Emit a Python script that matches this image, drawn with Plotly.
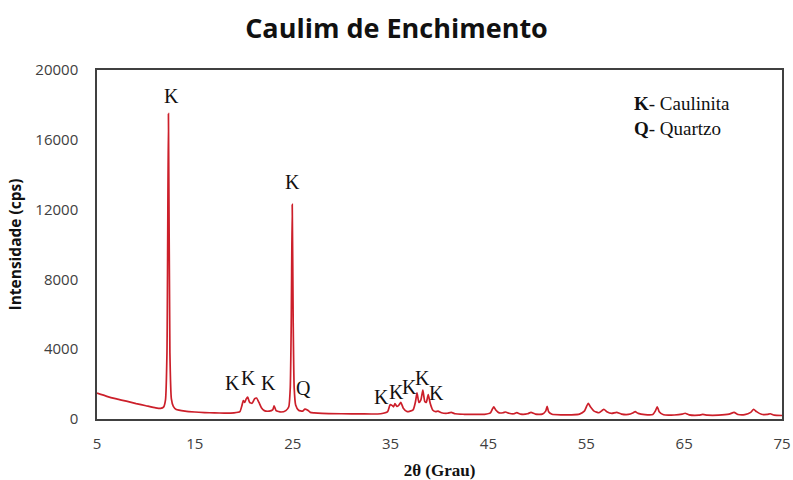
import plotly.graph_objects as go

# Diffractogram of the filler kaolin: 2-theta (degrees) and intensity (cps)
two_theta = [
    5.0, 6.0, 7.0, 8.0, 9.0, 10.0, 11.0, 11.5, 11.8, 12.0, 12.15, 12.3, 12.45, 12.6,
    12.8, 13.1, 14.0, 15.0, 16.0, 17.0, 18.0, 19.0, 19.6, 19.8, 19.95, 20.1, 20.25,
    20.4, 20.6, 20.85, 21.1, 21.3, 21.55, 21.8, 22.1, 22.6, 22.95, 23.1, 23.3, 23.8,
    24.3, 24.6, 24.75, 24.85, 24.95, 25.05, 25.15, 25.3, 25.6, 26.0, 26.25, 26.5,
    26.8, 27.2, 28.0, 30.0, 32.0, 34.0, 34.7, 34.95, 35.15, 35.3, 35.45, 35.65,
    35.85, 36.05, 36.3, 36.7, 37.3, 37.55, 37.7, 37.9, 38.1, 38.3, 38.5, 38.65,
    38.85, 39.05, 39.3, 39.6, 39.85, 40.2, 40.8, 41.2, 41.6, 42.5, 43.5, 44.6,
    45.2, 45.4, 45.55, 45.75, 46.1, 46.5, 46.75, 47.1, 47.6, 47.9, 48.3, 49.0,
    49.35, 49.8, 50.5, 50.85, 51.0, 51.15, 51.5, 52.5, 53.5, 54.3, 54.8, 55.05,
    55.2, 55.4, 55.8, 56.3, 56.6, 56.8, 57.1, 57.6, 58.1, 58.6, 59.3, 59.8, 60.0,
    60.3, 61.0, 61.8, 62.05, 62.25, 62.45, 62.9, 64.0, 64.8, 65.1, 65.5, 66.5,
    66.9, 67.4, 68.5, 69.6, 70.1, 70.5, 71.2, 71.8, 72.1, 72.4, 72.9, 73.5, 73.8,
    74.2, 75.0,
]
intensity = [
    1480, 1300, 1150, 1020, 880, 760, 640, 610, 680, 1100, 3800, 17500, 3800, 1150,
    720, 540, 450, 400, 370, 350, 340, 350, 420, 750, 1050, 950, 1150,
    1250, 950, 900, 1150, 1200, 950, 650, 480, 450, 520, 750, 480, 400,
    480, 700, 1800, 5500, 12300, 5500, 1800, 800, 500, 450, 570, 520,
    380, 350, 320, 300, 290, 300, 420, 820, 780, 700, 880, 720,
    800, 950, 620, 420, 520, 1000, 1500, 950, 1100, 1650, 1000, 950,
    1400, 900, 520, 420, 450, 360, 330, 380, 300, 270, 260, 270,
    350, 560, 700, 520, 350, 360, 400, 330, 300, 360, 280, 300,
    380, 280, 280, 450, 720, 420, 270, 240, 240, 280, 450, 750,
    900, 720, 450, 360, 480, 560, 420, 320, 380, 280, 260, 360, 420,
    320, 250, 260, 450, 700, 420, 240, 230, 280, 330, 240, 220,
    260, 220, 220, 280, 380, 260, 250, 380, 560, 420, 270, 260, 300,
    220, 200,
]

# Phase labels placed above the peaks
label_text = ["K", "K", "K", "K", "K", "Q", "K", "K", "K", "K", "K"]
label_x = [12.63, 25.0, 18.87, 20.5, 22.5, 26.08, 34.09, 35.62, 36.98, 38.28, 39.71]
label_y = [18500, 13580, 2050, 2350, 2050, 1780, 1280, 1560, 1850, 2330, 1470]

x_ticks = [5, 15, 25, 35, 45, 55, 65, 75]
y_ticks = [0, 4000, 8000, 12000, 16000, 20000]

fig = go.Figure()
fig.add_trace(go.Scatter(
    x=two_theta, y=intensity, mode="lines",
    line=dict(color="#CC1F2A", width=1.7, shape="spline", smoothing=0.5),
    showlegend=False, hoverinfo="skip",
))

serif = "Liberation Serif, Times New Roman, serif"
for t, xv, yv in zip(label_text, label_x, label_y):
    fig.add_annotation(x=xv, y=yv, xref="x", yref="y", text=t, showarrow=False,
                       font=dict(family=serif, size=20, color="#111111"))

fig.add_annotation(x=0.781, y=0.905, xref="paper", yref="paper",
                   xanchor="left", yanchor="middle",
                   text="<b>K</b>- Caulinita", showarrow=False,
                   font=dict(family=serif, size=19, color="#111111"))
fig.add_annotation(x=0.781, y=0.831, xref="paper", yref="paper",
                   xanchor="left", yanchor="middle",
                   text="<b>Q</b>- Quartzo", showarrow=False,
                   font=dict(family=serif, size=19, color="#111111"))

fig.update_layout(
    width=793, height=480,
    margin=dict(l=97, r=11, t=70, b=61),
    paper_bgcolor="white", plot_bgcolor="white",
    title=dict(text="<b>Caulim de Enchimento</b>", x=0.5, xanchor="center",
               y=0.94, yanchor="middle",
               font=dict(family="Open Sans, sans-serif", size=27, color="#111111")),
    font=dict(family="Open Sans, sans-serif", color="#404040"),
)
fig.update_xaxes(
    range=[5, 75], tickvals=x_ticks, ticktext=[str(v) for v in x_ticks],
    showgrid=False, zeroline=False, automargin=False,
    showline=True, mirror=True, linecolor="#404040", linewidth=1.5,
    ticks="", ticklabelstandoff=10, tickfont=dict(size=15, color="#404040"),
    title=dict(text="<b>2θ (Grau)</b>", standoff=12,
               font=dict(family=serif, size=17, color="#111111")),
)
fig.update_yaxes(
    range=[0, 20000], tickvals=y_ticks, ticktext=[str(v) for v in y_ticks],
    showgrid=False, zeroline=False, automargin=False,
    showline=True, mirror=True, linecolor="#404040", linewidth=1.5,
    ticks="", ticklabelstandoff=14, tickfont=dict(size=15, color="#404040"),
    title=dict(text="<b>Intensidade (cps)</b>", standoff=10,
               font=dict(family="Open Sans, sans-serif", size=15.5, color="#111111")),
)

fig.write_html("out.html")
